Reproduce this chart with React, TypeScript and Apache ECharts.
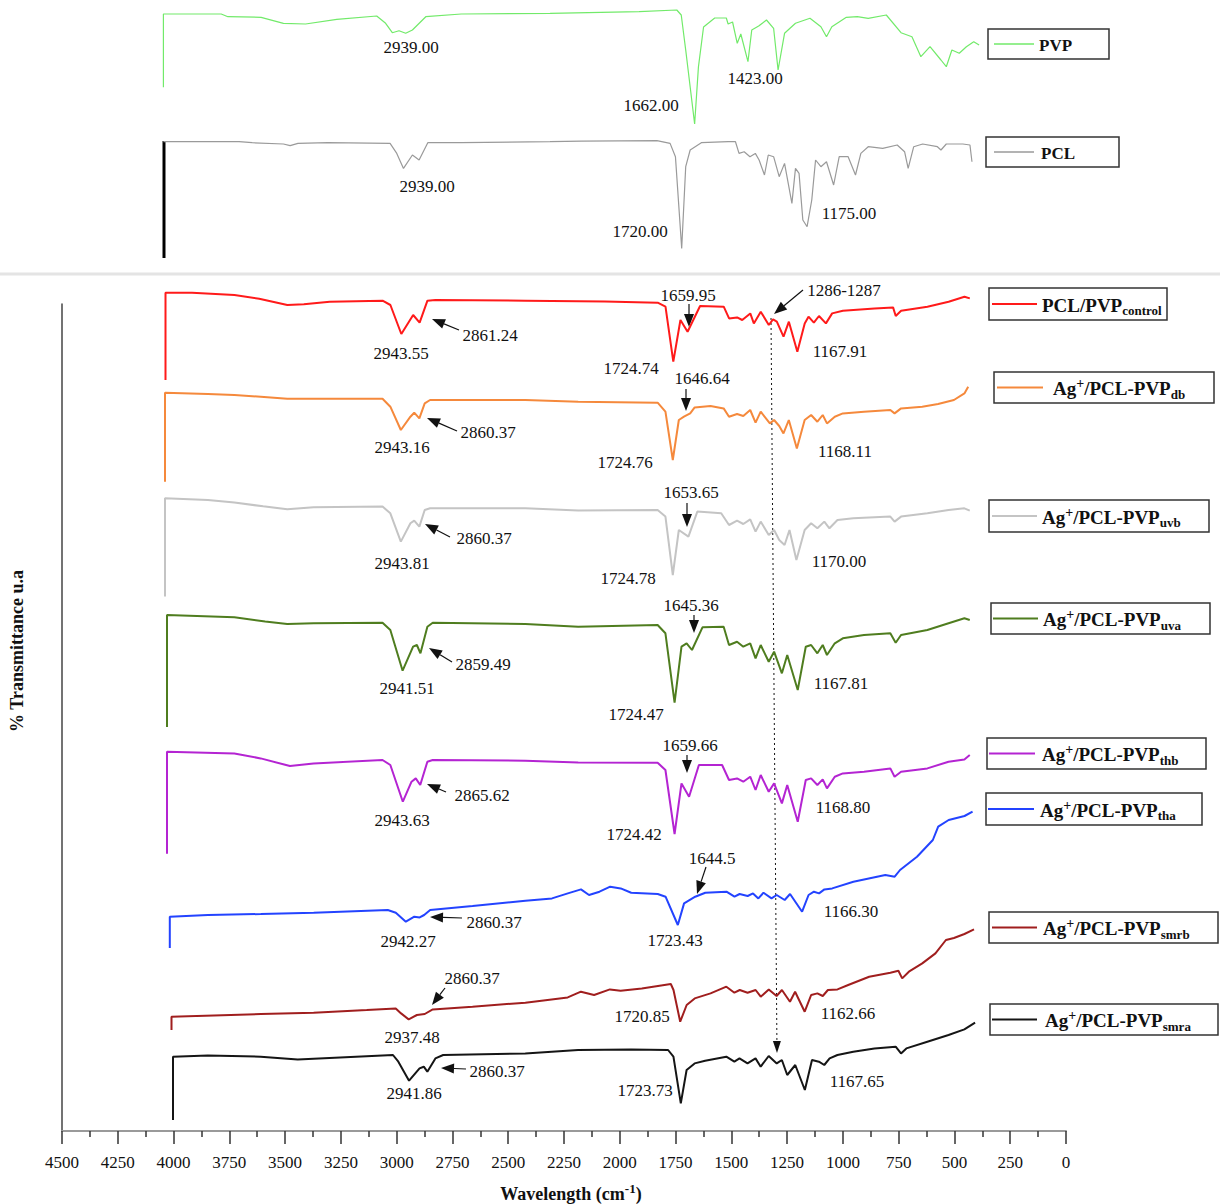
import React, { useEffect, useRef } from "react";
import * as echarts from "echarts";

const SERIF = '"Liberation Serif", "Times New Roman", Times, serif';
const PX = 1004 / 4500;

// ---- spectra: [wavenumber (cm-1), transmittance (a.u.)] ----
const pvp = [[4043,26.7],[4043,100],[3784,100],[3754,97.3],[3605,96.7],[3505,90.7],[3406,90],[3266,94.7],[3087,98],[3047,90.7],[3017,81.3],[2987,83.3],[2957,80.7],[2927,84],[2867,97.3],[2708,100],[2310,100.7],[1911,102.3],[1742,104],[1722,99],[1702,64],[1662,-10],[1645,47],[1622,87],[1572,96],[1520,96],[1512,90],[1492,92],[1471,70.7],[1455,80],[1423,52.3],[1406,84],[1375,88],[1340,94],[1308,85.7],[1288,44],[1259,80.7],[1210,90.7],[1145,95.7],[1096,87.3],[1071,77.3],[1047,87.3],[982,96.7],[933,97.3],[884,95.7],[803,99],[737,81.3],[688,77.3],[648,57.3],[607,67.3],[558,54],[534,47.3],[509,64],[476,60.7],[444,67.3],[411,72.3],[387,69]];
const pcl = [[4043,100],[3704,100],[3645,99],[3505,97.7],[3475,96],[3440,98.3],[3306,99],[3027,98.3],[2997,88.3],[2967,73.3],[2927,86.7],[2897,81.7],[2858,99],[2708,99],[2310,100],[2170,100.5],[1831,101],[1772,98.3],[1748,85],[1720,-6.7],[1702,75],[1682,91.7],[1632,99],[1512,100],[1479,100],[1463,88.3],[1440,90],[1414,85],[1390,88.3],[1373,81.7],[1349,66.7],[1332,86.7],[1308,85],[1283,65],[1259,78.3],[1226,38.3],[1210,73.3],[1194,68.3],[1177,21.7],[1158,15],[1137,41.7],[1120,81.7],[1096,75],[1071,80],[1039,56.7],[1014,85],[974,85],[941,66.7],[917,88.3],[884,95],[819,93.3],[754,96.7],[721,90],[705,73.3],[680,95],[640,97.7],[574,95],[558,91.7],[534,97.7],[460,97.7],[428,96.7],[419,80]];
const control = [[4000,12.7],[4000,100],[3881,100],[3691,97.7],[3580,94],[3454,87.7],[3380,88.5],[3264,91],[3027,92],[2992,87.7],[2943,58.7],[2890,77.7],[2861,70],[2826,92],[2790,92.7],[2387,92],[2031,91.3],[1794,90],[1759,86],[1724,31],[1692,72.7],[1660,61],[1604,86.7],[1498,86],[1474,74.3],[1438,75.3],[1415,72.7],[1379,79.3],[1363,69.3],[1332,81],[1296,67.7],[1277,73.3],[1260,71],[1230,56],[1206,71],[1168,41],[1135,69.3],[1118,76],[1094,70],[1071,76.7],[1040,69.3],[1012,79.3],[964,82],[822,84.3],[739,85.3],[727,76.7],[703,82],[585,86],[490,91],[419,96],[395,94.3]];
const db = [[4000,11],[4000,100],[3808,98.7],[3689,97.7],[3571,96],[3452,94],[3334,94],[3025,94],[2990,86],[2943,62.7],[2900,76],[2883,80],[2860,74.3],[2836,89.3],[2812,92.7],[2385,92.7],[2148,91],[1792,90],[1757,81],[1724,32.7],[1697,72.7],[1674,76],[1646,79.3],[1626,85.3],[1555,86.7],[1496,84.3],[1472,76],[1436,78.7],[1408,76.7],[1377,82.7],[1353,70],[1330,81],[1289,69.3],[1270,72.7],[1247,66.7],[1228,59.3],[1204,72.7],[1168,44.3],[1133,72.7],[1104,77.7],[1076,71],[1052,77.7],[1033,69.3],[998,76],[962,79.3],[867,81],[749,82.7],[730,79.3],[701,84.3],[606,86],[535,88.7],[464,92.7],[417,99.3],[400,106]];
const uvb = [[4000,1.7],[4000,100],[3808,98.3],[3689,95.7],[3560,92],[3452,89],[3334,91],[3025,91.7],[2990,85],[2943,56.7],[2900,75],[2883,77.7],[2860,71.7],[2836,88.3],[2812,90],[2385,90],[2148,87.7],[1792,88.3],[1757,81.7],[1724,23.3],[1697,68.3],[1654,61.7],[1614,86.7],[1507,85],[1472,73.3],[1436,77.7],[1408,74.3],[1377,79],[1353,66.7],[1330,76.7],[1294,63.3],[1270,68.3],[1247,58.3],[1223,53.3],[1201,68.3],[1170,38.3],[1133,68.3],[1104,75],[1076,70],[1045,76.7],[1022,70],[986,78.3],[915,80],[749,81.7],[730,76.7],[701,81.7],[583,85],[488,88.3],[417,90],[393,87.7]];
const uva = [[4000,-12],[4000,100],[3698,97.7],[3560,93.5],[3461,91],[3343,91.7],[3034,92.3],[2999,85],[2944,44.3],[2897,68.3],[2880,70],[2864,61.7],[2833,88.3],[2809,92.3],[2394,91],[2157,88.3],[1801,90],[1766,81.7],[1725,12.3],[1694,68.3],[1671,71.7],[1647,65],[1600,87.7],[1505,88.3],[1481,70],[1445,73.3],[1417,68.3],[1386,71.7],[1362,56.7],[1339,70],[1303,53.3],[1279,63.3],[1244,41.7],[1220,60],[1173,25],[1137,68.3],[1113,70],[1085,61.7],[1061,70],[1042,60],[1007,71.7],[971,76.7],[876,80],[758,81.7],[734,72.3],[710,80],[592,85],[497,91.7],[426,96.7],[402,95]];
const thb = [[4000,-2],[4000,100],[3698,98.3],[3580,93.3],[3449,85.7],[3343,88.3],[3034,91.7],[2999,86.7],[2943,50],[2904,70],[2885,73.3],[2865,66.7],[2833,90],[2809,91.7],[2394,91],[2157,89.3],[1801,89],[1766,81.7],[1725,17.7],[1694,68.3],[1660,55],[1616,86.7],[1512,86.7],[1481,71.7],[1445,73.3],[1417,70],[1386,75],[1362,61.7],[1339,76.7],[1303,60],[1279,68.3],[1244,48.3],[1220,66.7],[1173,30],[1137,71.7],[1113,73.3],[1085,66.7],[1061,72.3],[1042,63.3],[1007,75],[971,78.3],[876,80],[758,83.3],[739,75],[710,80],[592,83.3],[497,90],[426,92.3],[402,96.7]];
const tha = [[4000,68.7],[4000,100],[3829,101.7],[3592,102.7],[3355,104],[3023,106.7],[2987,104],[2942,95],[2904,100],[2880,99.3],[2860,101.7],[2833,106.7],[2643,110.7],[2406,116],[2287,118.3],[2216,123.3],[2157,127.3],[2121,121.7],[2074,125],[2026,130],[1979,128.3],[1932,124],[1813,122.7],[1778,120],[1723,91.7],[1695,113.3],[1645,120],[1600,124],[1505,125],[1469,120],[1446,122.7],[1410,120.7],[1386,123.3],[1362,118.3],[1339,124],[1303,118.3],[1280,121.7],[1244,116.7],[1220,122.7],[1166,105],[1137,121.7],[1113,125],[1090,123.3],[1066,127.3],[1031,128.3],[936,135],[793,141.7],[751,140],[727,146.7],[651,160],[580,176.7],[556,190],[509,196.7],[438,200.7],[402,205]];
const smrb = [[4000,86.7],[4000,100],[3600,102.7],[3363,104],[3125,106.7],[2995,108.3],[2971,103.3],[2937,97.3],[2900,101.7],[2865,102.7],[2829,107.3],[2651,110],[2414,114],[2224,119.3],[2165,125],[2106,121.7],[2035,127.3],[1987,126],[1892,128.3],[1762,132.7],[1750,126.7],[1720,95],[1691,111.7],[1655,118.3],[1584,123.3],[1513,130],[1477,124],[1453,126.7],[1418,124],[1382,126.7],[1359,120],[1323,127.3],[1288,120.7],[1264,126.7],[1228,115],[1205,125],[1162,105],[1133,121.7],[1105,123.3],[1081,120.7],[1058,126.7],[1015,127.3],[967,131.7],[873,140],[778,144],[742,146],[725,138.3],[695,145],[635,153.3],[576,163.3],[529,176.7],[493,178.7],[446,182.7],[403,187.3]];
const smra = [[4000,36.7],[4000,100],[3844,101.3],[3607,100],[3441,97.3],[3251,99.3],[3014,101.7],[2990,95],[2942,76],[2895,88.3],[2876,90],[2860,85],[2824,98.3],[2789,101.7],[2421,103.3],[2184,106.7],[1947,107.3],[1781,106.7],[1757,100],[1724,53.3],[1698,86.7],[1662,93.3],[1615,96],[1520,100],[1484,95],[1461,98.3],[1425,93.3],[1389,98.3],[1366,90],[1330,100.7],[1294,93.3],[1271,96.7],[1247,81.7],[1211,91.7],[1168,66.7],[1136,96.7],[1105,95],[1081,91.7],[1057,98.3],[1022,101.7],[951,105],[856,108.3],[761,110],[737,103.3],[713,108.3],[619,115],[524,121.7],[453,127.3],[405,134]];

const spectraData = [pvp, pcl, control, db, uvb, uva, thb, tha, smrb, smra];
const seriesNames = ["PVP", "PCL", "PCL/PVP control", "Ag+/PCL-PVP db", "Ag+/PCL-PVP uvb", "Ag+/PCL-PVP uva", "Ag+/PCL-PVP thb", "Ag+/PCL-PVP tha", "Ag+/PCL-PVP smrb", "Ag+/PCL-PVP smra"];
const legendTexts = [
  "{b|PVP}", "{b|PCL}", "{b|PCL/PVP}{s|control}",
  "{b|Ag}{p|+}{b|/PCL-PVP}{s|db}", "{b|Ag}{p|+}{b|/PCL-PVP}{s|uvb}", "{b|Ag}{p|+}{b|/PCL-PVP}{s|uva}",
  "{b|Ag}{p|+}{b|/PCL-PVP}{s|thb}", "{b|Ag}{p|+}{b|/PCL-PVP}{s|tha}", "{b|Ag}{p|+}{b|/PCL-PVP}{s|smrb}", "{b|Ag}{p|+}{b|/PCL-PVP}{s|smra}",
];

// ---- layout & style (pixels) ----
const panelStyle = [
  { color: "#72ea6a", width: 1.2, x4000: 173, yRef: 14, yMin: -15, yMax: 110 },
  { color: "#9a9a9a", width: 1.2, x4000: 173, yRef: 141.7, yMin: -15, yMax: 110 },
  { color: "#ff1a1a", width: 2, x4000: 165.5, yRef: 292.7, yMin: 0, yMax: 110 },
  { color: "#f5893c", width: 2, x4000: 165, yRef: 392.7, yMin: 0, yMax: 115 },
  { color: "#c4c4c4", width: 2, x4000: 165, yRef: 498.3, yMin: -5, yMax: 110 },
  { color: "#4f7d1f", width: 2, x4000: 167, yRef: 615, yMin: -20, yMax: 110 },
  { color: "#b424d2", width: 2, x4000: 167, yRef: 751.7, yMin: -10, yMax: 110 },
  { color: "#2343ff", width: 2, x4000: 169.8, yRef: 916.7, yMin: 60, yMax: 215 },
  { color: "#a01e1e", width: 2, x4000: 171.5, yRef: 1016.7, yMin: 80, yMax: 200 },
  { color: "#151515", width: 2, x4000: 173, yRef: 1056.7, yMin: 30, yMax: 145 },
];
const legendBoxes = [
  { box: [988, 29, 121, 30], line: [994, 1034], tx: 1039, fs: 17 },
  { box: [986, 137, 133, 30], line: [994, 1034], tx: 1041, fs: 17 },
  { box: [989, 288, 178, 32], line: [992, 1037], tx: 1042, fs: 19 },
  { box: [994, 372, 220, 31], line: [997, 1043], tx: 1053, fs: 19 },
  { box: [989, 500, 220, 32], line: [992, 1037], tx: 1042, fs: 19 },
  { box: [991, 603, 219, 31], line: [993, 1038], tx: 1043, fs: 19 },
  { box: [987, 738, 219, 31], line: [989, 1035], tx: 1042, fs: 19 },
  { box: [986, 793, 216, 32], line: [988, 1034], tx: 1040, fs: 19 },
  { box: [989, 912, 229, 31], line: [992, 1037], tx: 1043, fs: 19 },
  { box: [990, 1004, 228, 31], line: [992, 1037], tx: 1045, fs: 19 },
];
const peakLabels: [string, number, number][] = [
  ["2939.00", 411, 47], ["1662.00", 651, 105], ["1423.00", 755, 78],
  ["2939.00", 427, 186], ["1720.00", 640, 231], ["1175.00", 849, 213],
  ["2943.55", 401, 353], ["2861.24", 490, 335], ["1659.95", 688, 295], ["1724.74", 631, 368], ["1286-1287", 844, 290], ["1167.91", 840, 351],
  ["2943.16", 402, 447], ["2860.37", 488, 432], ["1646.64", 702, 378], ["1724.76", 625, 462], ["1168.11", 845, 451],
  ["2943.81", 402, 563], ["2860.37", 484, 538], ["1653.65", 691, 492], ["1724.78", 628, 578], ["1170.00", 839, 561],
  ["2941.51", 407, 688], ["2859.49", 483, 664], ["1645.36", 691, 605], ["1724.47", 636, 714], ["1167.81", 841, 683],
  ["2943.63", 402, 820], ["2865.62", 482, 795], ["1659.66", 690, 745], ["1724.42", 634, 834], ["1168.80", 843, 807],
  ["2942.27", 408, 941], ["2860.37", 494, 922], ["1644.5", 712, 858], ["1723.43", 675, 940], ["1166.30", 851, 911],
  ["2937.48", 412, 1037], ["2860.37", 472, 978], ["1720.85", 642, 1016], ["1162.66", 848, 1013],
  ["2941.86", 414, 1093], ["2860.37", 497, 1071], ["1723.73", 645, 1090], ["1167.65", 857, 1081],
];
const arrows: number[][] = [
  [459, 330, 432, 319], [689, 304, 689, 327], [803, 290, 774, 314],
  [457, 431, 427, 418], [686, 389, 686, 411],
  [450, 537, 425, 524], [687, 503, 687, 527],
  [452, 662, 429, 648], [694, 615, 694, 633],
  [446, 792, 427, 784], [687, 755, 687, 773],
  [462, 918, 430, 917], [706, 867, 697, 894],
  [445, 988, 432, 1005],
  [466, 1069, 441, 1068],
];

function arrowEls(x1: number, y1: number, x2: number, y2: number, dashed = false, hl = 13, hw = 5) {
  const dx = x2 - x1, dy = y2 - y1;
  const len = Math.hypot(dx, dy);
  const ux = dx / len, uy = dy / len;
  const bx = x2 - ux * hl, by = y2 - uy * hl;
  return [
    { type: "line", silent: true, shape: { x1, y1, x2: bx, y2: by }, style: { stroke: "#111", lineWidth: dashed ? 1 : 1.2, lineDash: dashed ? [2, 3] : null } },
    { type: "polygon", silent: true, shape: { points: [[x2, y2], [bx - uy * hw, by + ux * hw], [bx + uy * hw, by - ux * hw]] }, style: { fill: "#111" } },
  ];
}

function richStyles(fs: number) {
  return {
    b: { fontSize: fs, fontWeight: "bold", fontFamily: SERIF, fill: "#111", color: "#111", lineHeight: 24 },
    s: { fontSize: Math.round(fs * 0.68), fontWeight: "bold", fontFamily: SERIF, fill: "#111", color: "#111", lineHeight: 12, verticalAlign: "bottom" },
    p: { fontSize: Math.round(fs * 0.72), fontWeight: "bold", fontFamily: SERIF, fill: "#111", color: "#111", lineHeight: 14, verticalAlign: "top" },
  };
}

function buildOption() {
  const grids: any[] = [];
  const xAxes: any[] = [];
  const yAxes: any[] = [];
  const series: any[] = [];
  panelStyle.forEach((ps, i) => {
    grids.push({ left: ps.x4000 - 500 * PX, top: ps.yRef - (ps.yMax - 100), width: 4500 * PX, height: ps.yMax - ps.yMin });
    xAxes.push({ gridIndex: i, type: "value", min: 0, max: 4500, inverse: true, show: false });
    yAxes.push({ gridIndex: i, type: "value", min: ps.yMin, max: ps.yMax, show: false });
    series.push({
      name: seriesNames[i], type: "line", xAxisIndex: i, yAxisIndex: i, data: spectraData[i],
      showSymbol: false, symbol: "none", clip: false, silent: true,
      lineStyle: { color: ps.color, width: ps.width }, itemStyle: { color: ps.color },
    });
  });
  const mi = panelStyle.length;
  grids.push({ left: 62, top: 304, width: 1004, height: 827 });
  xAxes.push({
    gridIndex: mi, type: "value", min: 0, max: 4500, interval: 250, inverse: true,
    axisLine: { show: true, onZero: false, lineStyle: { color: "#9a9a9a", width: 2 } },
    axisTick: { show: true, length: 13, lineStyle: { color: "#333", width: 1.5 } },
    minorTick: { show: true, splitNumber: 2, length: 6, lineStyle: { color: "#333", width: 1.5 } },
    axisLabel: { color: "#111", fontSize: 17, fontFamily: SERIF, margin: 23, formatter: (v: number) => String(v) },
    splitLine: { show: false }, minorSplitLine: { show: false },
  });
  yAxes.push({
    gridIndex: mi, type: "value", min: 0, max: 1,
    axisLine: { show: true, onZero: false, lineStyle: { color: "#444", width: 1.5 } },
    axisTick: { show: false }, axisLabel: { show: false }, splitLine: { show: false },
  });

  const graphics: any[] = [];
  graphics.push({ type: "line", silent: true, shape: { x1: 0, y1: 274, x2: 1220, y2: 274 }, style: { stroke: "#e4e4e4", lineWidth: 3 } });
  graphics.push({ type: "line", silent: true, shape: { x1: 164, y1: 141, x2: 164, y2: 258 }, style: { stroke: "#000", lineWidth: 3 } });
  legendBoxes.forEach((lb, i) => {
    const [bx, by, bw, bh] = lb.box;
    const yc = by + bh / 2;
    graphics.push({ type: "rect", silent: true, shape: { x: bx, y: by, width: bw, height: bh }, style: { fill: "#fff", stroke: "#333", lineWidth: 1.5 } });
    graphics.push({ type: "line", silent: true, shape: { x1: lb.line[0], y1: yc, x2: lb.line[1], y2: yc }, style: { stroke: panelStyle[i].color, lineWidth: i < 2 ? 1.5 : 2.2 } });
    graphics.push({
      type: "text", silent: true, x: lb.tx, y: yc + 1,
      style: { text: legendTexts[i], rich: richStyles(lb.fs), fill: "#111", font: `bold ${lb.fs}px ${SERIF}`, align: "left", verticalAlign: "middle", textAlign: "left", textVerticalAlign: "middle" },
    });
  });
  peakLabels.forEach(([t, x, y]) => {
    graphics.push({ type: "text", silent: true, x, y, style: { text: t, fill: "#111", font: `17px ${SERIF}`, align: "center", verticalAlign: "middle", textAlign: "center", textVerticalAlign: "middle" } });
  });
  arrows.forEach(([x1, y1, x2, y2]) => graphics.push(...arrowEls(x1, y1, x2, y2)));
  graphics.push(...arrowEls(771, 318, 777, 1053, true, 12, 4));
  graphics.push({
    type: "text", silent: true, x: 571, y: 1194,
    style: { text: "{b|Wavelength (cm}{p|-1}{b|)}", rich: richStyles(18), fill: "#111", font: `bold 18px ${SERIF}`, align: "center", verticalAlign: "middle", textAlign: "center", textVerticalAlign: "middle" },
  });
  graphics.push({
    type: "text", silent: true, x: 17, y: 651, rotation: Math.PI / 2,
    style: { text: "% Transmittance u.a", fill: "#111", font: `bold 18px ${SERIF}`, align: "center", verticalAlign: "middle", textAlign: "center", textVerticalAlign: "middle" },
  });

  return {
    animation: false,
    backgroundColor: "#ffffff",
    grid: grids,
    xAxis: xAxes,
    yAxis: yAxes,
    series,
    graphic: { elements: graphics },
  };
}

export default function App() {
  const ref = useRef<HTMLDivElement>(null);
  useEffect(() => {
    document.body.style.margin = "0";
    const chart = echarts.init(ref.current!, null, { renderer: "svg" });
    chart.setOption(buildOption() as any);
    return () => chart.dispose();
  }, []);
  return <div ref={ref} style={{ width: 1220, height: 1204 }} />;
}
